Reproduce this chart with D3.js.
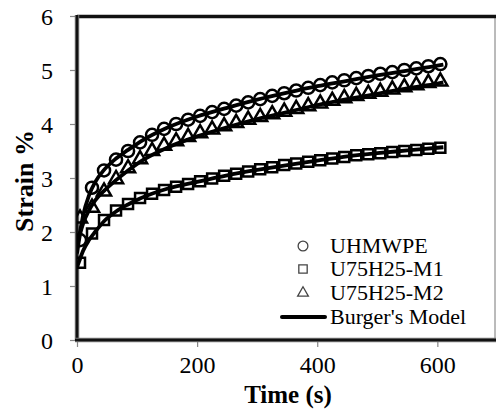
<!DOCTYPE html>
<html><head><meta charset="utf-8">
<script src="https://cdn.jsdelivr.net/npm/d3@7/dist/d3.min.js"></script>
<style>body{margin:0;background:#fff}svg{display:block}</style>
</head><body>
<svg id="c" width="497" height="410"></svg>
<script>
const times = [5,25,45,65,85,105,125,145,165,185,205,225,245,265,285,305,325,345,365,385,405,425,445,465,485,505,525,545,565,585,605];
const uhmwpe = [1.85,2.82,3.14,3.34,3.5,3.66,3.8,3.91,4.0,4.08,4.15,4.22,4.28,4.34,4.4,4.46,4.52,4.57,4.62,4.67,4.72,4.77,4.81,4.85,4.89,4.93,4.96,5.0,5.03,5.07,5.11];
const m1 = [1.43,1.97,2.22,2.4,2.52,2.63,2.71,2.78,2.84,2.89,2.94,2.99,3.04,3.08,3.12,3.16,3.2,3.24,3.27,3.3,3.33,3.36,3.39,3.42,3.44,3.46,3.48,3.5,3.52,3.54,3.56];
const m2 = [2.25,2.45,2.75,2.98,3.18,3.35,3.5,3.6,3.68,3.76,3.83,3.9,3.96,4.02,4.08,4.13,4.18,4.23,4.28,4.33,4.38,4.43,4.48,4.52,4.56,4.6,4.64,4.68,4.72,4.76,4.79];
const modelT = [0,5,10,20,30,45,65,85,105,150,200,250,300,350,400,450,500,550,600,610];
const modelU = [1.75,2.0,2.3,2.68,2.92,3.15,3.36,3.52,3.67,3.93,4.14,4.3,4.45,4.58,4.7,4.8,4.9,4.99,5.08,5.1];
const modelM1 = [1.35,1.5,1.65,1.85,2.0,2.2,2.38,2.51,2.62,2.8,2.93,3.05,3.15,3.24,3.32,3.4,3.46,3.51,3.56,3.57];
const modelM2 = [1.6,1.95,2.15,2.4,2.58,2.76,2.96,3.14,3.3,3.56,3.77,3.94,4.09,4.22,4.35,4.46,4.56,4.66,4.75,4.77];
const xTicks = [0,200,400,600];
const yTicks = [0,1,2,3,4,5,6];
const legendLabels = ["UHMWPE","U75H25-M1","U75H25-M2","Burger's Model"];

const svg = d3.select("#c");
const L = 77, R = 495, T = 16, B = 340;
const x = d3.scaleLinear().domain([0,696]).range([L,R]);
const y = d3.scaleLinear().domain([0,6]).range([B,T]);
const serif = "'Liberation Serif','Times New Roman',serif";

svg.append("defs").append("clipPath").attr("id","clip")
  .append("rect").attr("x",L).attr("y",T).attr("width",R-L).attr("height",B-T);

// ticks
const yAx = d3.axisLeft(y).tickValues(yTicks).tickSize(7).tickFormat(d3.format("d"));
const gy = svg.append("g").attr("transform",`translate(${L},0)`).call(yAx);
gy.select(".domain").remove();
gy.selectAll(".tick line").attr("stroke","#888").attr("stroke-width",1.2);
gy.selectAll(".tick text").attr("font-family",serif).attr("font-size",24).attr("fill","#000").attr("x",-24).attr("dy","0.34em");

const xAx = d3.axisBottom(x).tickValues(xTicks).tickSize(7).tickFormat(d3.format("d"));
const gx = svg.append("g").attr("transform",`translate(0,${B})`).call(xAx);
gx.select(".domain").remove();
gx.selectAll(".tick line").attr("stroke","#888").attr("stroke-width",1.2);
gx.selectAll(".tick text").attr("font-family",serif).attr("font-size",24).attr("fill","#000").attr("y",16);

// frame
svg.append("line").attr("x1",R).attr("x2",R).attr("y1",T).attr("y2",B).attr("stroke","#777").attr("stroke-width",1);
svg.append("line").attr("x1",L).attr("x2",R+1).attr("y1",T+0.5).attr("y2",T+0.5).attr("stroke","#111").attr("stroke-width",3.5);
svg.append("line").attr("x1",L).attr("x2",L).attr("y1",T-1).attr("y2",B+1).attr("stroke","#777").attr("stroke-width",4.5);
svg.append("line").attr("x1",L).attr("x2",L).attr("y1",T-1).attr("y2",B+1).attr("stroke","#111").attr("stroke-width",2.5);
svg.append("line").attr("x1",L-2).attr("x2",R+1).attr("y1",B).attr("y2",B).attr("stroke","#777").attr("stroke-width",4.5);
svg.append("line").attr("x1",L-2).attr("x2",R+1).attr("y1",B).attr("y2",B).attr("stroke","#111").attr("stroke-width",2.5);

const plot = svg.append("g").attr("clip-path","url(#clip)");

// model lines
const line = d3.line().x(d=>x(d[0])).y(d=>y(d[1])).curve(d3.curveMonotoneX);
[modelU, modelM1, modelM2].forEach(arr=>{
  plot.append("path").datum(modelT.map((t,i)=>[t,arr[i]]))
    .attr("d",line).attr("fill","none").attr("stroke","#000").attr("stroke-width",3.8).attr("stroke-linejoin","round");
});

// markers
const circ = d3.symbol().type(d3.symbolCircle).size(115);
const sq = d3.symbol().type(d3.symbolSquare).size(100);
const tri = d3.symbol().type(d3.symbolTriangle).size(85);
function markers(vals, sym){
  plot.append("g").selectAll("path").data(times.map((t,i)=>[t,vals[i]])).join("path")
    .attr("transform",d=>`translate(${x(d[0])},${y(d[1])})`)
    .attr("d",sym).attr("fill","none").attr("stroke","#000").attr("stroke-width",2.5);
}
markers(uhmwpe,circ);
markers(m1,sq);
markers(m2,tri);

// axis titles
svg.append("text").attr("x",(L+R)/2 + 2).attr("y",403).attr("text-anchor","middle")
  .attr("font-family",serif).attr("font-weight","bold").attr("font-size",25).text("Time (s)");
svg.append("text").attr("transform",`translate(33,${(T+B)/2 + 3}) rotate(-90)`).attr("text-anchor","middle")
  .attr("font-family",serif).attr("font-weight","bold").attr("font-size",26).text("Strain %");

// legend
const lg = svg.append("g");
const rows = [246,269,293,317];
const lsyms = [d3.symbol().type(d3.symbolCircle).size(75), d3.symbol().type(d3.symbolSquare).size(70), d3.symbol().type(d3.symbolTriangle).size(50)];
lsyms.forEach((s,i)=>{
  lg.append("path").attr("transform",`translate(303,${rows[i]})`).attr("d",s)
    .attr("fill","none").attr("stroke","#444").attr("stroke-width",1.3);
});
lg.append("line").attr("x1",282).attr("x2",325).attr("y1",rows[3]).attr("y2",rows[3]).attr("stroke","#000").attr("stroke-width",4).attr("stroke-linecap","round");
legendLabels.forEach((t,i)=>{
  lg.append("text").attr("x",330).attr("y",rows[i]+7).attr("font-family",serif).attr("font-size",22).attr("fill","#000").text(t);
});
</script>
</body></html>
